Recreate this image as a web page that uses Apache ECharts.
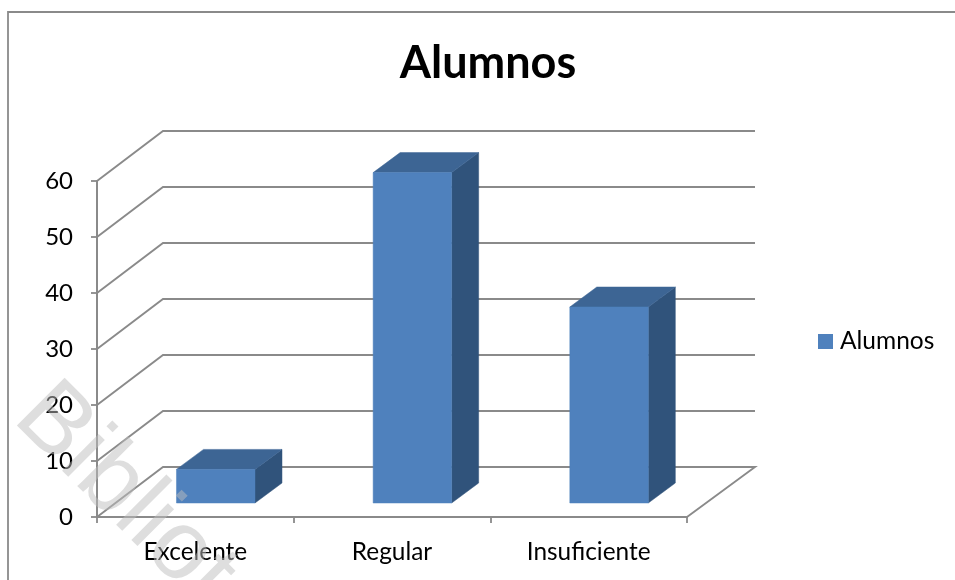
<!DOCTYPE html>
<html>
<head>
<meta charset="utf-8">
<style>html,body{margin:0;padding:0;background:#fff}#c{width:955px;height:580px}</style>
<script src="https://cdn.jsdelivr.net/npm/echarts@6/dist/echarts.min.js"></script>
</head>
<body>
<div id="c"></div>
<script>
const categories = ['Excelente', 'Regular', 'Insuficiente'];
const alumnos = [6, 59, 35];
const yTicks = [0, 10, 20, 30, 40, 50, 60];
const seriesName = 'Alumnos';
const titleText = 'Alumnos';
const watermarkText = 'Biblioteca';

const FONT = 'Lato, "Open Sans", sans-serif';
const AXIS = '#8A8A8A';
const wallDX = 66, wallDY = -50;      // depth of the floor / side wall
const backExtra = 2;                  // back wall runs slightly past the floor's front edge
const barOffX = 20.4, barOffY = -14;  // bars stand inside the floor
const barDX = 27, barDY = -20;        // depth of a bar
const barW = 78.5;

const chart = echarts.init(document.getElementById('c'), null, {renderer: 'canvas'});

function renderWalls(params, api) {
  const v = api.value(1);
  const p = api.coord([0, v]);
  const g = params.coordSys;
  const left = g.x, right = g.x + g.width;
  const pts = [[left, p[1]], [left + wallDX, p[1] + wallDY], [right + wallDX + backExtra, p[1] + wallDY]];
  if (v === 0) pts.push([right, p[1]]);
  return {type: 'polyline', shape: {points: pts},
    style: {stroke: AXIS, lineWidth: 1.9, fill: null}, silent: true};
}

function renderBar(params, api) {
  const c = api.coord([api.value(0), api.value(1)]);
  const b = api.coord([api.value(0), 0]);
  const x0 = c[0] + barOffX - barW / 2, x1 = x0 + barW;
  const yT = c[1] + barOffY, yB = b[1] + barOffY;
  const poly = (pts, fill) => ({type: 'polygon', shape: {points: pts},
    style: {fill: fill, stroke: fill, lineWidth: 0.5}});
  return {type: 'group', children: [
    poly([[x1, yT], [x1 + barDX, yT + barDY], [x1 + barDX, yB + barDY], [x1, yB]], '#30537B'),
    poly([[x0, yT], [x0 + barDX, yT + barDY], [x1 + barDX, yT + barDY], [x1, yT]], '#3D6594'),
    poly([[x0, yT], [x1, yT], [x1, yB], [x0, yB]], '#4F81BD')
  ]};
}

chart.setOption({
  animation: false,
  backgroundColor: '#fff',
  title: {
    text: titleText, left: 483, top: 36, textAlign: 'center',
    textStyle: {fontFamily: FONT, fontSize: 45, fontWeight: 'bold', color: '#000'}
  },
  legend: {
    data: [{name: seriesName, icon: 'rect'}],
    left: 813, top: 324, itemWidth: 15, itemHeight: 15,
    textStyle: {fontFamily: FONT, fontSize: 24.5, color: '#000', padding: [0, 0, 0, 2]}
  },
  grid: {left: 97, right: 268, top: 181, bottom: 63, containLabel: false},
  xAxis: {
    type: 'category', data: categories, boundaryGap: true,
    axisLine: {lineStyle: {color: AXIS, width: 2}},
    axisTick: {show: true, length: 6, lineStyle: {color: AXIS, width: 1.8}},
    axisLabel: {fontFamily: FONT, fontSize: 24.4, color: '#000', margin: 23}
  },
  yAxis: {
    type: 'value', min: yTicks[0], max: yTicks[yTicks.length - 1], interval: yTicks[1] - yTicks[0],
    axisLine: {show: true, lineStyle: {color: AXIS, width: 2}},
    axisTick: {show: true, length: 6, lineStyle: {color: AXIS, width: 1.8}},
    axisLabel: {fontFamily: FONT, fontSize: 24, color: '#000', margin: 24, padding: [6, 0, 0, 0]},
    splitLine: {show: false}
  },
  series: [
    {name: 'walls', type: 'custom', renderItem: renderWalls, z: 1, silent: true, clip: false,
     data: yTicks.map(v => [0, v]), encode: {x: 0, y: 1}},
    {name: seriesName, type: 'custom', renderItem: renderBar, z: 3, clip: false,
     itemStyle: {color: '#4F81BD'},
     data: alumnos.map((v, i) => [i, v]), encode: {x: 0, y: 1}}
  ],
  graphic: [
    {type: 'polyline', z: 0, silent: true,
     shape: {points: [[8, 580], [8, 12], [955, 12]]},
     style: {stroke: AXIS, lineWidth: 1.8, fill: null}},
    {type: 'text', z: 100, silent: true, x: 65, y: 366, rotation: -Math.PI / 4,
     style: {text: watermarkText, fontFamily: '"Liberation Sans", sans-serif', fontSize: 98,
             fill: 'rgba(190,190,190,0.5)', textAlign: 'left', textVerticalAlign: 'top'}}
  ]
});
</script>
</body>
</html>
